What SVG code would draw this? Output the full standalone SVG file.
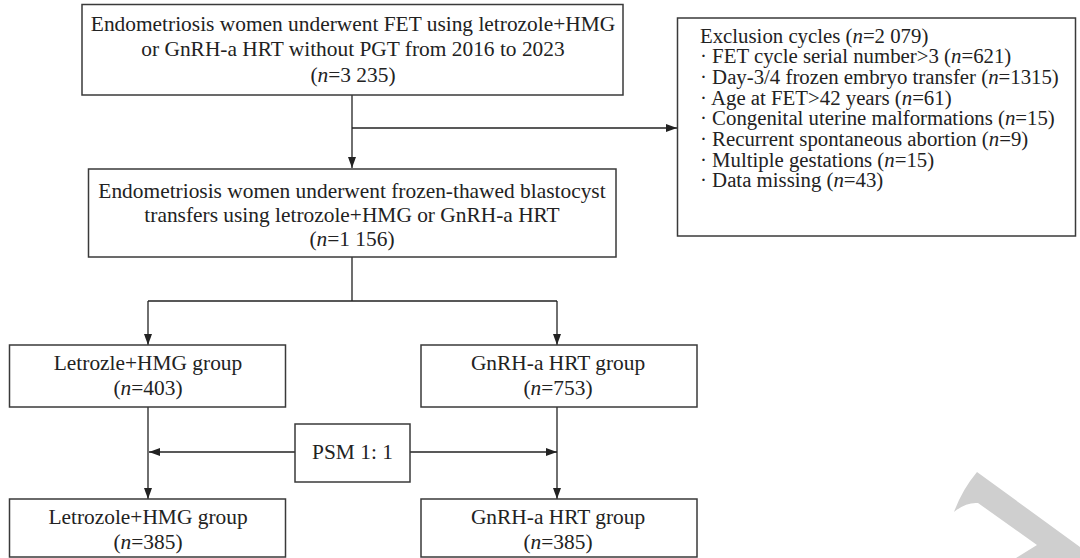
<svg xmlns="http://www.w3.org/2000/svg" width="1080" height="558" viewBox="0 0 1080 558">
<style>
.box{fill:#fff;stroke:#3a3a3a;stroke-width:1.5}
.t{font-family:"Liberation Serif","Times New Roman",serif;font-size:21.4px;fill:#222}
.x{font-size:20.8px}
.c{text-anchor:middle}
.i{font-style:italic}
.ln{fill:none;stroke:#222;stroke-width:1.3}
</style>
<defs>
<marker id="ah" markerUnits="userSpaceOnUse" markerWidth="11" markerHeight="8" refX="11" refY="4" orient="auto">
<path d="M0,0 L11,4 L0,8 z" fill="#222"/>
</marker>
</defs>
<rect width="1080" height="558" fill="#fff"/>
<g id="watermark">
<path d="M977,472 L1080,547 L1080,558 L1016,558 L1037,545 L978,503 Q966,502 954,512 Q962,490 977,472 z" fill="#cfcfcf"/>
</g>
<g id="connectors">
<path class="ln" d="M352,95 V168" marker-end="url(#ah)"/>
<path class="ln" d="M352,128 H677" marker-end="url(#ah)"/>
<path class="ln" d="M352,257 V301 M148,301 H557"/>
<path class="ln" d="M148,301 V345" marker-end="url(#ah)"/>
<path class="ln" d="M557,301 V345" marker-end="url(#ah)"/>
<path class="ln" d="M148,407 V499" marker-end="url(#ah)"/>
<path class="ln" d="M557,407 V499" marker-end="url(#ah)"/>
<path class="ln" d="M295,452 H149" marker-end="url(#ah)"/>
<path class="ln" d="M410,452 H557" marker-end="url(#ah)"/>
</g>
<g id="start">
<rect class="box" x="82" y="4.5" width="541" height="90.5"/>
<text class="t c" x="353" y="30.5">Endometriosis women underwent FET using letrozole+HMG</text>
<text class="t c" x="353" y="56">or GnRH-a HRT without PGT from 2016 to 2023</text>
<text class="t c" x="353" y="81.5">(<tspan class="i">n</tspan>=3 235)</text>
</g>
<g id="exclusion">
<rect class="box" x="677.5" y="18" width="398" height="218"/>
<text class="t x" x="700" y="42.5">Exclusion cycles (<tspan class="i">n</tspan>=2 079)</text>
<text class="t x" x="700" y="63.2">· FET cycle serial number&gt;3 (<tspan class="i">n</tspan>=621)</text>
<text class="t x" x="700" y="83.9">· Day-3/4 frozen embryo transfer (<tspan class="i">n</tspan>=1315)</text>
<text class="t x" x="700" y="104.6">· Age at FET&gt;42 years (<tspan class="i">n</tspan>=61)</text>
<text class="t x" x="700" y="125.3">· Congenital uterine malformations (<tspan class="i">n</tspan>=15)</text>
<text class="t x" x="700" y="146">· Recurrent spontaneous abortion (<tspan class="i">n</tspan>=9)</text>
<text class="t x" x="700" y="166.7">· Multiple gestations (<tspan class="i">n</tspan>=15)</text>
<text class="t x" x="700" y="187.4">· Data missing (<tspan class="i">n</tspan>=43)</text>
</g>
<g id="blastocyst">
<rect class="box" x="88.5" y="169" width="527.5" height="88"/>
<text class="t c" x="352" y="197.5">Endometriosis women underwent frozen-thawed blastocyst</text>
<text class="t c" x="352" y="221.5">transfers using letrozole+HMG or GnRH-a HRT</text>
<text class="t c" x="352" y="246">(<tspan class="i">n</tspan>=1 156)</text>
</g>
<g id="letrozole-pre">
<rect class="box" x="9.5" y="345" width="276" height="62"/>
<text class="t c" x="148" y="369.5">Letrozle+HMG group</text>
<text class="t c" x="148" y="394.5">(<tspan class="i">n</tspan>=403)</text>
</g>
<g id="gnrh-pre">
<rect class="box" x="421" y="345" width="276" height="62"/>
<text class="t c" x="558" y="369.5">GnRH-a HRT group</text>
<text class="t c" x="558" y="394.5">(<tspan class="i">n</tspan>=753)</text>
</g>
<g id="psm">
<rect class="box" x="295" y="424" width="115" height="58"/>
<text class="t c" x="352.5" y="459">PSM 1: 1</text>
</g>
<g id="letrozole-post">
<rect class="box" x="9.5" y="499" width="276" height="58"/>
<text class="t c" x="148" y="523.5">Letrozole+HMG group</text>
<text class="t c" x="148" y="548.5">(<tspan class="i">n</tspan>=385)</text>
</g>
<g id="gnrh-post">
<rect class="box" x="421" y="499" width="276" height="58"/>
<text class="t c" x="558" y="523.5">GnRH-a HRT group</text>
<text class="t c" x="558" y="548.5">(<tspan class="i">n</tspan>=385)</text>
</g>
</svg>
